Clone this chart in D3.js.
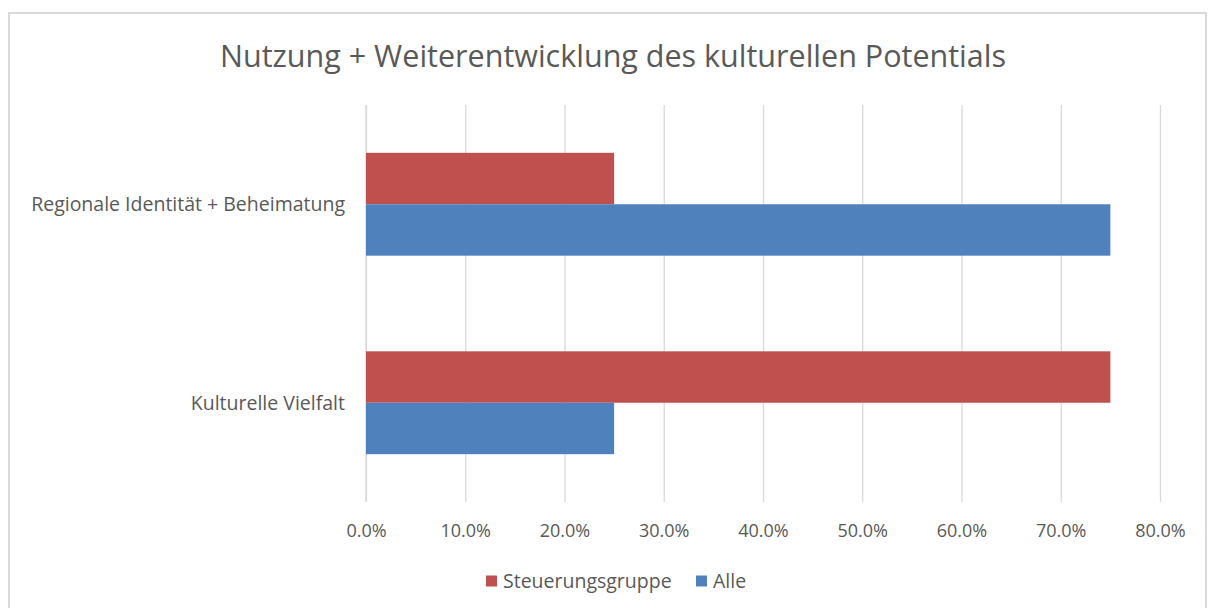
<!DOCTYPE html>
<html>
<head>
<meta charset="utf-8">
<script src="https://cdn.jsdelivr.net/npm/d3@7"></script>
<style>
  html, body { margin: 0; padding: 0; background: #fff; }
  svg text { font-family: "Open Sans", "Noto Sans", sans-serif; fill: #595959; }
</style>
</head>
<body>
<svg id="chart"></svg>
<script>
// Daten
const title = 'Nutzung + Weiterentwicklung des kulturellen Potentials';
const categories = ['Regionale Identität + Beheimatung', 'Kulturelle Vielfalt'];
const seriesNames = ['Steuerungsgruppe', 'Alle'];
const steuerungsgruppe = [0.25, 0.75];
const alle = [0.75, 0.25];
const xTicks = [0, 0.1, 0.2, 0.3, 0.4, 0.5, 0.6, 0.7, 0.8];
const colors = ['#C0504D', '#4F81BD'];

const width = 1208, height = 608;
const plot = { left: 366, right: 1160, top: 105, bottom: 502 };

const svg = d3.select('#chart')
    .attr('width', width)
    .attr('height', height);

// Rahmen
svg.append('rect')
    .attr('x', 9).attr('y', 13)
    .attr('width', 1197).attr('height', 620)
    .attr('fill', 'none')
    .attr('stroke', '#d9d9d9')
    .attr('stroke-width', 2);

// Titel
svg.append('text')
    .attr('x', 613).attr('y', 67)
    .attr('text-anchor', 'middle')
    .style('font-size', '30.5px')
    .text(title);

// x-Achse
const xScale = d3.scaleLinear()
    .domain([0, 0.8])
    .range([plot.left, plot.right]);

const xAxis = svg.append('g')
    .attr('transform', `translate(0, ${plot.bottom})`)
    .call(d3.axisBottom(xScale)
        .tickValues(xTicks)
        .tickSize(-(plot.bottom - plot.top))
        .tickPadding(22)
        .tickFormat(d3.format('.1%')));
xAxis.select('.domain').remove();
xAxis.selectAll('line').attr('stroke', '#d9d9d9').attr('stroke-width', 1.3);
xAxis.selectAll('text')
    .style('font-size', '18px')
    .style('fill', '#595959')
    .style('font-family', '"Open Sans", sans-serif');

// y-Achse (Kategorien)
const yScale = d3.scaleBand()
    .domain(categories)
    .range([plot.top, plot.bottom]);

const ySub = d3.scaleBand()
    .domain(seriesNames)
    .range([0, yScale.bandwidth()])
    .paddingOuter(0.93);

svg.append('line')
    .attr('x1', plot.left).attr('x2', plot.left)
    .attr('y1', plot.top).attr('y2', plot.bottom)
    .attr('stroke', '#d9d9d9').attr('stroke-width', 1.3);

svg.selectAll('.cat')
    .data(categories)
    .enter()
    .append('text')
    .attr('class', 'cat')
    .attr('x', plot.left - 21)
    .attr('y', d => yScale(d) + yScale.bandwidth() / 2)
    .attr('dy', '0.35em')
    .attr('text-anchor', 'end')
    .style('font-size', '19.5px')
    .text(d => d);

// Balken
const rows = [];
categories.forEach((c, i) => {
    rows.push({ cat: c, series: seriesNames[0], value: steuerungsgruppe[i], color: colors[0] });
    rows.push({ cat: c, series: seriesNames[1], value: alle[i], color: colors[1] });
});

svg.selectAll('rect.bar')
    .data(rows)
    .enter()
    .append('rect')
    .attr('class', 'bar')
    .attr('x', xScale(0))
    .attr('y', d => yScale(d.cat) + ySub(d.series))
    .attr('width', d => xScale(d.value) - xScale(0))
    .attr('height', ySub.bandwidth())
    .attr('fill', d => d.color);

// Legende
const legend = svg.append('g').attr('transform', 'translate(486, 581)');
const legendX = [0, 210];
seriesNames.forEach((s, i) => {
    const g = legend.append('g').attr('transform', `translate(${legendX[i]}, 0)`);
    g.append('rect')
        .attr('x', 0).attr('y', -5.5)
        .attr('width', 11).attr('height', 11)
        .attr('fill', colors[i]);
    g.append('text')
        .attr('x', 17).attr('y', 0)
        .attr('dy', '0.35em')
        .style('font-size', '19.5px')
        .text(s);
});
</script>
</body>
</html>
